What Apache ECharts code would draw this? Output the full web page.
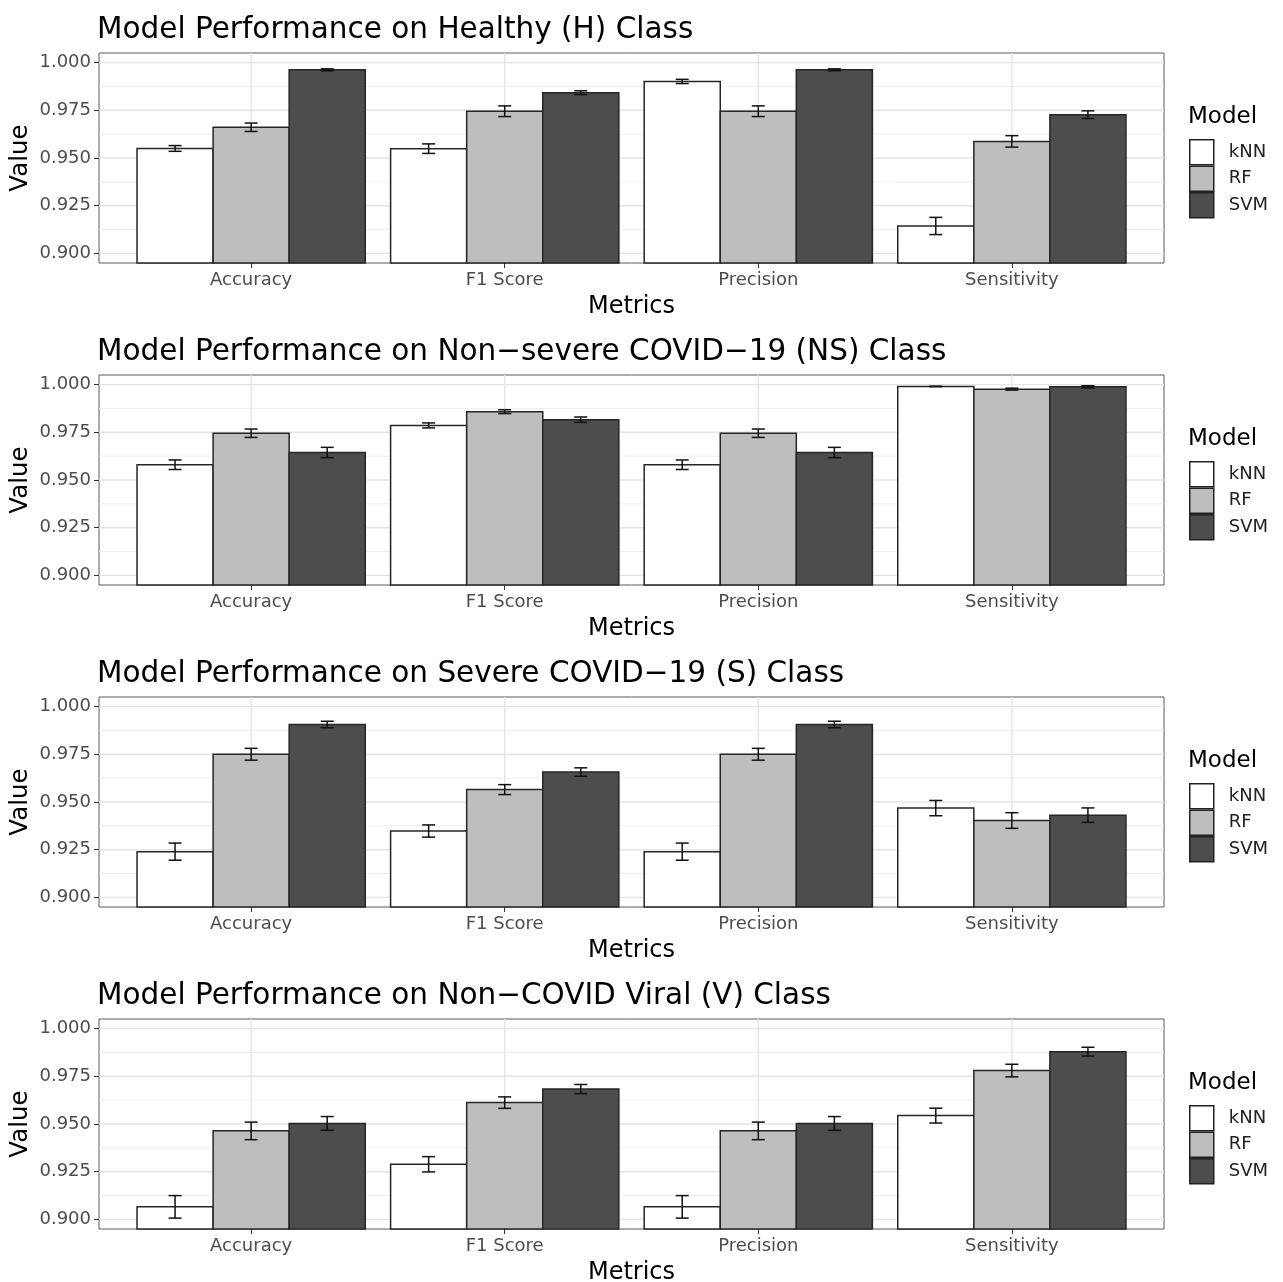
<!DOCTYPE html>
<html><head><meta charset="utf-8">
<script src="https://cdn.jsdelivr.net/npm/echarts@6/dist/echarts.min.js"></script>
<style>html,body{margin:0;padding:0;background:#fff}#c{width:1283px;height:1282px}</style>
</head><body><div id="c"></div><script>
const metrics = ['Accuracy', 'F1 Score', 'Precision', 'Sensitivity'];
const models = ['kNN', 'RF', 'SVM'];
const panelTitles = [
  'Model Performance on Healthy (H) Class',
  'Model Performance on Non\u2212severe COVID\u221219 (NS) Class',
  'Model Performance on Severe COVID\u221219 (S) Class',
  'Model Performance on Non\u2212COVID Viral (V) Class'
];
const yTicks = [0.900, 0.925, 0.950, 0.975, 1.000];
const yMinor = [0.9125, 0.9375, 0.9625, 0.9875];

// Healthy (H)
const hKNN = [0.9550, 0.9549, 0.9901, 0.9144];
const hKNNErr = [0.0015, 0.0025, 0.0011, 0.0045];
const hRF = [0.9661, 0.9745, 0.9745, 0.9587];
const hRFErr = [0.0022, 0.0028, 0.0028, 0.0030];
const hSVM = [0.9962, 0.9842, 0.9962, 0.9727];
const hSVMErr = [0.0005, 0.0010, 0.0005, 0.0020];
// Non-severe (NS)
const nsKNN = [0.9580, 0.9786, 0.9580, 0.9990];
const nsKNNErr = [0.0025, 0.0013, 0.0025, 0.0001];
const nsRF = [0.9745, 0.9858, 0.9745, 0.9976];
const nsRFErr = [0.0022, 0.0010, 0.0022, 0.0005];
const nsSVM = [0.9644, 0.9816, 0.9644, 0.9988];
const nsSVMErr = [0.0027, 0.0014, 0.0027, 0.0006];
// Severe (S)
const sKNN = [0.9240, 0.9348, 0.9240, 0.9468];
const sKNNErr = [0.0045, 0.0032, 0.0045, 0.0040];
const sRF = [0.9750, 0.9565, 0.9750, 0.9403];
const sRFErr = [0.0031, 0.0026, 0.0031, 0.0041];
const sSVM = [0.9906, 0.9657, 0.9906, 0.9431];
const sSVMErr = [0.0017, 0.0022, 0.0017, 0.0038];
// Non-COVID viral (V)
const vKNN = [0.9066, 0.9289, 0.9066, 0.9544];
const vKNNErr = [0.0059, 0.0040, 0.0059, 0.0039];
const vRF = [0.9464, 0.9612, 0.9464, 0.9780];
const vRFErr = [0.0046, 0.0030, 0.0046, 0.0033];
const vSVM = [0.9503, 0.9683, 0.9503, 0.9879];
const vSVMErr = [0.0036, 0.0024, 0.0036, 0.0023];

const panelValues = [[hKNN, hRF, hSVM], [nsKNN, nsRF, nsSVM], [sKNN, sRF, sSVM], [vKNN, vRF, vSVM]];
const panelErrors = [[hKNNErr, hRFErr, hSVMErr], [nsKNNErr, nsRFErr, nsSVMErr], [sKNNErr, sRFErr, sSVMErr], [vKNNErr, vRFErr, vSVMErr]];

const FONT = 'DejaVu Sans';
const fills = ['#FFFFFF', '#BEBEBE', '#4D4D4D'];
const TOP0 = 53, STEP = 322, PH = 210, LEFT = 99, PW = 1065;
const metricPos = metrics.map((_, i) => i + 1);
const DODGE = 0.9 / models.length;

const chart = echarts.init(document.getElementById('c'), null, {renderer: 'canvas'});

const grids = [], xAxes = [], yAxes = [], titles = [], legends = [], series = [];

panelTitles.forEach((t, p) => {
  const top = TOP0 + STEP * p;
  grids.push({left: LEFT, top: top, width: PW, height: PH, show: true, outerBoundsMode: 'none', containLabel: false,
    borderColor: '#5a5a5a', borderWidth: 1, backgroundColor: '#fff'});
  titles.push({text: t, left: 97, top: top - 38, padding: 0,
    textStyle: {fontFamily: FONT, fontSize: 29.5, fontWeight: 'normal', color: '#000'}});
  titles.push({text: 'Model', left: 1188, top: top + 53, padding: 0,
    textStyle: {fontFamily: FONT, fontSize: 23, fontWeight: 'normal', color: '#000'}});
  legends.push({left: 1189, top: top + 86, orient: 'vertical', itemWidth: 24, itemHeight: 25, itemGap: 0,
    padding: 0, selectedMode: false, icon: 'rect',
    data: models.map((m, k) => ({name: m, itemStyle: {color: fills[k], borderColor: '#222', borderWidth: 1.5}})),
    textStyle: {fontFamily: FONT, fontSize: 18, color: '#222', padding: [0, 0, 0, 10]}});
  xAxes.push({gridIndex: p, type: 'value', min: 0.4, max: 4.6,
    axisLine: {show: false}, splitLine: {show: false},
    axisTick: {show: true, customValues: metricPos, length: 5, lineStyle: {color: '#333', width: 1}},
    axisLabel: {customValues: metricPos, formatter: v => metrics[Math.round(v) - 1], margin: 8,
      fontFamily: FONT, fontSize: 18, color: '#4D4D4D'},
    name: 'Metrics', nameLocation: 'middle', nameGap: 32, nameMoveOverlap: false,
    nameTextStyle: {fontFamily: FONT, fontSize: 24, color: '#000'}});
  yAxes.push({gridIndex: p, type: 'value', min: 0.895, max: 1.005,
    axisLine: {show: false}, splitLine: {show: false},
    axisTick: {show: true, customValues: yTicks, length: 5, lineStyle: {color: '#333', width: 1}},
    axisLabel: {customValues: yTicks, formatter: v => v.toFixed(3), margin: 8,
      fontFamily: FONT, fontSize: 18, color: '#4D4D4D'},
    name: 'Value', nameLocation: 'middle', nameGap: 66, nameRotate: 90, nameMoveOverlap: false,
    nameTextStyle: {fontFamily: FONT, fontSize: 24.5, color: '#000'}});

  // grid lines from tick arrays
  series.push({type: 'custom', xAxisIndex: p, yAxisIndex: p, z: 1, silent: true,
    data: [[1, 0.95]],
    renderItem: (params, api) => {
      const cs = params.coordSys;
      const ch = [];
      yMinor.forEach(y => { const py = api.coord([1, y])[1];
        ch.push({type: 'line', shape: {x1: cs.x, y1: py, x2: cs.x + cs.width, y2: py}, style: {stroke: '#EDEDED', lineWidth: 1}}); });
      yTicks.forEach(y => { const py = api.coord([1, y])[1];
        ch.push({type: 'line', shape: {x1: cs.x, y1: py, x2: cs.x + cs.width, y2: py}, style: {stroke: '#E4E4E4', lineWidth: 1.3}}); });
      metricPos.forEach(x => { const px = api.coord([x, 0.95])[0];
        ch.push({type: 'line', shape: {x1: px, y1: cs.y, x2: px, y2: cs.y + cs.height}, style: {stroke: '#E4E4E4', lineWidth: 1.3}}); });
      return {type: 'group', children: ch};
    }});

  models.forEach((m, k) => {
    const vals = panelValues[p][k], errs = panelErrors[p][k];
    series.push({type: 'custom', name: m, xAxisIndex: p, yAxisIndex: p, z: 3 + k,
      itemStyle: {color: fills[k]},
      encode: {x: 0, y: 1},
      data: metrics.map((_, i) => [metricPos[i], vals[i], errs[i]]),
      renderItem: (params, api) => {
        const xc = api.value(0) + (k - 1) * DODGE;
        const v = api.value(1), e = api.value(2);
        const cs = params.coordSys;
        const l = api.coord([xc - DODGE / 2, v]);
        const r = api.coord([xc + DODGE / 2, v]);
        const c = api.coord([xc, v]);
        const hi = api.coord([xc, v + e])[1];
        const lo = api.coord([xc, v - e])[1];
        const bottom = cs.y + cs.height;
        const cap = 6.5;
        const es = {stroke: '#111', lineWidth: 1.5};
        return {type: 'group', children: [
          {type: 'rect', shape: {x: l[0], y: l[1], width: r[0] - l[0], height: bottom - l[1]},
            style: {fill: fills[k], stroke: '#262626', lineWidth: 1.5}},
          {type: 'line', shape: {x1: c[0], y1: hi, x2: c[0], y2: lo}, style: es},
          {type: 'line', shape: {x1: c[0] - cap, y1: hi, x2: c[0] + cap, y2: hi}, style: es},
          {type: 'line', shape: {x1: c[0] - cap, y1: lo, x2: c[0] + cap, y2: lo}, style: es}
        ]};
      }});
  });
});

chart.setOption({animation: false, backgroundColor: '#fff', title: titles, legend: legends,
  grid: grids, xAxis: xAxes, yAxis: yAxes, series: series});
</script></body></html>
